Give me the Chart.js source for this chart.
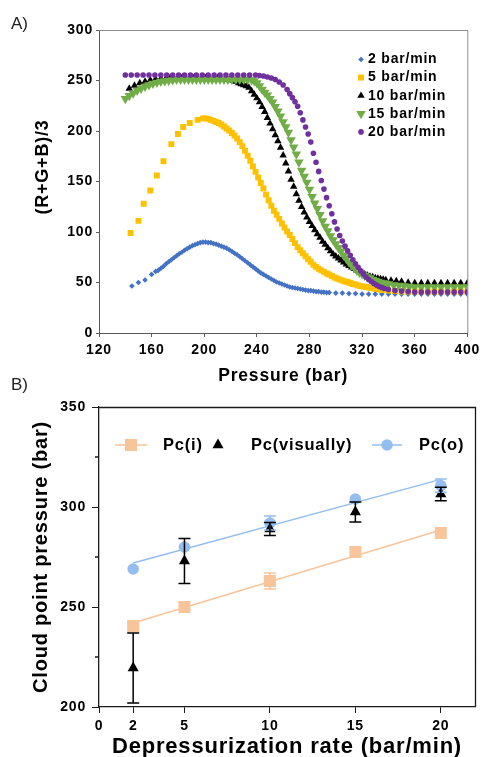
<!DOCTYPE html>
<html><head><meta charset="utf-8">
<script src="https://cdn.jsdelivr.net/npm/chart.js@4.4.1/dist/chart.umd.min.js"></script>
<style>
html,body{margin:0;padding:0;background:#fff;width:484px;height:757px;overflow:hidden;}
.box{position:absolute;left:0;width:484px;}
#boxA{top:0;height:390px;}
#boxB{top:376px;height:381px;}
</style></head><body>
<div class="box" id="boxA"><canvas id="chartA"></canvas></div>
<div class="box" id="boxB"><canvas id="chartB"></canvas></div>
<script>
// ---------- Panel A data: [pressure (bar), (R+G+B)/3] ----------
const seriesLabelsA = ['2 bar/min','5 bar/min','10 bar/min','15 bar/min','20 bar/min'];
const rate2 = [[145,46.5],[150,50],[155,52.5],[160,58],[163,61],[165,62],[167,64],[169,66],[171,68.5],[173,70.5],
 [175,72.5],[177,74.5],[179,76.5],[181,78.5],[183,80],[185,82],[187,83.5],[189,85],[191,86.5],[193,87.5],
 [195,88.5],[197,89.5],[199,90],[201,90],[203,89.5],[205,89.5],[207,88.5],[209,88],[211,87],[213,86],
 [215,85],[217,84],[219,82.5],[221,81],[223,79],[225,77.5],[227,75.5],[229,73.5],[231,71.5],[233,69.5],
 [235,67.5],[237,65.5],[239,63.5],[241,61.5],[243,59.5],[245,58],[247,56.5],[249,55],[251,53.5],[253,52],
 [255,50.5],[257,49.5],[259,48.5],[261,47.5],[263,46.5],[265,45.5],[267,45],[269,44.5],[271,44],[273,43.5],
 [275,43],[277,42.5],[279,42],[281,42],[283,41.5],[285,41],[287,41],[289,40.5],[291,40.5],[293,40],
 [295,40],[300,39.5],[305,39.5],[310,39],[315,39],[320,38.5],[325,38.5],[330,38.5],[335,38.5],[340,38.5],
 [345,38.5],[350,38.5],[355,38.5],[360,38.5],[365,38.5],[370,38.5],[375,38.5],[380,38.5],[385,38.5],[390,38.5],
 [395,38.5],[400,38.5]];
const rate5 = [[144,99],[150,111],[154,128],[159,141],[164,156],[169,170],[175,187],[180,197],[184,204],[189,208],
 [195,211],[199,212.5],[201,212.5],[203,212],[205,211],[207,210],[209,209],[211,208],[213,206.5],[215,204.5],
 [217,202.5],[219,200.5],[221,198],[223,195.5],[225,192.5],[227,189],[229,185],[231,180.5],[233,175.5],[235,170.5],
 [237,165],[239,159.5],[241,154],[243,148.5],[245,143],[247,137],[249,131.5],[251,126],[253,121],[255,117],
 [257,113],[259,108.5],[261,104.5],[263,100.5],[265,97],[267,93],[269,89],[271,85],[273,82],[275,79],
 [277,76],[279,73],[281,70.5],[283,67.5],[285,65.5],[287,63.5],[289,62],[291,60.5],[293,59],[295,58],
 [297,56.5],[299,55],[301,54],[303,53],[305,52],[307,51],[309,50.5],[311,49.5],[313,48.5],[315,48],
 [317,47],[319,46.5],[321,46],[323,45.5],[325,45],[327,44.5],[329,44],[331,43.5],[333,43],[335,42.5],
 [340,42],[345,41.5],[350,41],[355,41],[360,41],[365,41],[370,41],[375,41],[380,41],[385,41],
 [390,41],[395,41],[400,41]];
const rate10 = [[143,242],[147,245],[151,247.5],[155,249],[159,250.5],[163,251.5],[167,252],[171,252.5],[174,252.5],[177,252.5],
 [180,252.5],[183,252.5],[186,252.5],[189,252.5],[192,252.5],[195,252.5],[198,252.5],[201,252.5],[204,252.5],[207,252.5],
 [210,252.5],[213,252],[216,251.5],[219,251],[222,250],[224,249],[226,247.5],[228,246.5],[230,245.5],[232,244.5],
 [234,243],[236,239.5],[238,236],[240,232.5],[242,228.5],[244,224],[246,219],[248,213],[250,207.5],[252,202],
 [254,196],[256,190],[258,183.5],[260,176],[262,168],[264,160],[266,152],[268,145],[270,137.5],[272,131],
 [274,125],[276,119.5],[278,114.5],[280,110],[282,106],[284,102],[286,98],[288,94.5],[290,90.5],[292,87.5],
 [294,84],[296,81],[298,78],[300,76],[302,74],[304,72],[306,70],[308,68],[310,66.5],[312,65],
 [314,63.5],[316,62],[318,60.5],[320,59],[322,58],[324,57],[326,56],[328,55.5],[330,54.5],[332,54],
 [334,53.5],[336,53],[338,52.5],[342,52],[346,51.5],[350,51],[355,50],[360,49.5],[365,49.5],[370,49.5],
 [375,49.5],[380,49.5],[385,49.5],[390,49.5],[395,49.5],[400,49.5]];
const rate15 = [[140,232],[143,235],[146,237.5],[149,240],[152,242],[155,244],[158,245.5],[161,247],[164,248],[167,249],
 [170,249.5],[173,250],[176,250.5],[179,251],[182,251],[185,251],[188,251],[191,251],[194,251],[197,251],
 [200,251],[203,251],[206,251],[209,251],[212,251],[215,251],[218,251],[221,251],[224,251],[227,251],
 [230,251],[233,251],[236,250.5],[238,249.5],[240,247.5],[242,244.5],[244,241],[246,238],[248,235.5],[250,232],
 [252,228.5],[254,224],[256,219.5],[258,214.5],[260,209],[262,204],[264,198.5],[266,191],[268,184],[270,177],
 [272,169],[274,161],[276,155],[278,149],[280,142],[282,135],[284,128.5],[286,123],[288,117],[290,111],
 [292,105.5],[294,101],[296,96],[298,92],[300,88],[302,84.5],[304,81],[306,77],[308,73.5],[310,70],
 [312,67],[314,64.5],[316,62],[318,60],[320,58.5],[322,57],[324,55.5],[326,54.5],[328,53],[330,52],
 [332,51],[334,50],[336,49.5],[338,49],[340,48.5],[344,47.5],[348,47],[352,46.5],[356,46],[360,45.5],
 [365,45.5],[370,45.5],[375,45.5],[380,45.5],[385,45.5],[390,45.5],[395,45.5],[400,45.5]];
const rate20 = [[140,255.5],[144.5,255.5],[149,255.5],[153.5,255.5],[158,255.5],[162.5,255.5],[167,255.5],[171.5,255.5],[176,255.5],[180.5,255.5],
 [185,255.5],[189.5,255.5],[194,255.5],[198.5,255.5],[203,255.5],[207.5,255.5],[212,255.5],[216.5,255.5],[221,255.5],[225.5,255.5],
 [230,255.5],[234.5,255.5],[239,255.5],[242,255],[245,254.5],[248,253.5],[251,252.5],[254,251],[257,248.5],[260,245.5],
 [263,241],[265,237],[267,233],[269,229],[271,224.5],[273,218],[275,211],[277,204],[279,197],[281,189],
 [283,178],[285,169],[287,160],[289,151],[291,142.5],[293,134],[295,126],[297,118],[299,110],[301,103],
 [303,96.5],[305,91],[307,86],[309,81.5],[311,77],[313,72.5],[315,68.5],[317,65],[319,61.5],[321,58.5],
 [323,55.5],[325,53],[327,51],[329,49],[331,47.5],[333,46],[335,45],[337,44],[340,43],[345,42],
 [350,41.5],[355,41],[360,40.5],[365,40.5],[370,40.5],[375,40.5],[380,40.5],[385,40.5],[390,40.5],[395,40.5],
 [400,40.5]];

// ---------- Panel B data ----------
const ratesB = [2, 5, 10, 15, 20];
const pcI = [240.5, 250, 263, 277.5, 287];
const pcV = [219.5, 273, 289, 297.5, 306.5];
const pcO = [269, 280, 292, 304, 310.7];
const errI = [0, 0, 4, 0, 0];
const errV = [17.5, 11.3, 3.2, 5, 3.4];
const errO = [0, 0, 3.5, 0, 3.3];
const fitRates = [2, 20];
const fitI = [242, 288.5];
const fitO = [272, 313.8];
const xTicksB = [0, 2, 5, 10, 15, 20];
const minorTicksB = [225, 275, 325];
const legendLabelsB = ['Pc(i)', 'Pc(visually)', 'Pc(o)'];

// ---------- helpers ----------
const FONT = "'Liberation Sans', Arial, Helvetica, sans-serif";
Chart.defaults.font.family = FONT;
Chart.defaults.color = '#000';
const xy = pairs => pairs.map(p => ({x: p[0], y: p[1]}));
const zip = (xs, ys) => xs.map((x, i) => ({x: x, y: ys[i]}));
const spacing = {id: 'spacing', beforeDraw(c) { c.ctx.letterSpacing = '0.8px'; }};

// ---------- Chart A ----------
const styleA = [
  {color: '#4472C4', style: 'rectRot', r: 2.8, rot: 0},
  {color: '#FFC000', style: 'rect', r: 4.2, rot: 0},
  {color: '#000000', style: 'triangle', r: 4.3, rot: 0},
  {color: '#70AD47', style: 'triangle', r: 5.5, rot: 180},
  {color: '#7030A0', style: 'circle', r: 2.8, rot: 0}
];
const seriesA = [rate2, rate5, rate10, rate15, rate20];

const decoA = {
  id: 'decoA',
  beforeDatasetsDraw(c) {
    const {ctx, chartArea: a} = c;
    ctx.save();
    ctx.strokeStyle = '#8c8c8c'; ctx.lineWidth = 1;
    ctx.beginPath();
    ctx.moveTo(a.left, a.top + 0.5); ctx.lineTo(a.right + 0.5, a.top + 0.5); ctx.lineTo(a.right + 0.5, a.bottom);
    ctx.stroke();
    ctx.restore();
  },
  afterDraw(c) {
    const {ctx, chartArea: a} = c;
    ctx.save();
    ctx.letterSpacing = '0.8px';
    ctx.font = 'bold 14px ' + FONT;
    ctx.textBaseline = 'middle'; ctx.textAlign = 'left';
    c.data.datasets.forEach((ds, i) => {
      const y = a.top + 29.5 + i * 18.1;
      const mx = a.left + 262;
      ctx.fillStyle = ds.backgroundColor;
      Chart.helpers.drawPoint(ctx, {pointStyle: ds.pointStyle, radius: ds.pointRadius, rotation: ds.pointRotation, borderWidth: 0}, mx, y);
      ctx.fillStyle = '#000';
      ctx.fillText(ds.label, a.left + 269, y);
    });
    ctx.letterSpacing = '0px';
    ctx.font = '17px ' + FONT;
    ctx.fillStyle = '#222';
    ctx.fillText('A)', 11, 24);
    ctx.restore();
  }
};

new Chart(document.getElementById('chartA'), {
  type: 'scatter',
  data: {
    datasets: seriesA.map((d, i) => ({
      label: seriesLabelsA[i], data: xy(d),
      pointStyle: styleA[i].style, pointRadius: styleA[i].r, pointRotation: styleA[i].rot,
      pointHoverRadius: styleA[i].r,
      backgroundColor: styleA[i].color, borderColor: styleA[i].color, pointBorderWidth: 0,
      order: 5 - i
    }))
  },
  options: {
    responsive: true, maintainAspectRatio: false, animation: false, devicePixelRatio: 1, events: [],
    layout: {padding: {top: 30, right: 13, left: 0, bottom: 0}},
    plugins: {legend: {display: false}, tooltip: {enabled: false}},
    scales: {
      x: {
        type: 'linear', min: 120, max: 400,
        ticks: {stepSize: 40, font: {size: 14, weight: 'bold'}, color: '#000', padding: 5, maxRotation: 0},
        grid: {drawOnChartArea: false, drawTicks: true, tickLength: 4, color: '#595959'},
        border: {display: true, color: '#595959', width: 1},
        title: {display: true, text: 'Pressure (bar)', font: {size: 17.5, weight: 'bold'}, color: '#000', padding: {top: 0, bottom: 3}},
        afterFit(s) { s.height = 57; }
      },
      y: {
        min: 0, max: 300,
        ticks: {stepSize: 50, font: {size: 14, weight: 'bold'}, color: '#000', padding: 3},
        grid: {drawOnChartArea: false, drawTicks: true, tickLength: 3, color: '#595959'},
        border: {display: true, color: '#595959', width: 1},
        title: {display: true, text: '     (R+G+B)/3', font: {size: 18, weight: 'bold'}, color: '#000', padding: {top: 32, bottom: 0}},
        afterFit(s) { s.width = 99; }
      }
    }
  },
  plugins: [spacing, decoA]
});

// ---------- Chart B ----------
const colI = '#F8C49A', colO = '#94BEF0', colV = '#000000';

const decoB = {
  id: 'decoB',
  beforeDatasetsDraw(c) {
    const {ctx, chartArea: a, scales} = c;
    ctx.save();
    ctx.strokeStyle = '#1a1a1a'; ctx.lineWidth = 1.3;
    ctx.beginPath();
    ctx.moveTo(a.left, a.top + 0.5); ctx.lineTo(a.right + 0.5, a.top + 0.5); ctx.lineTo(a.right + 0.5, a.bottom);
    minorTicksB.forEach(v => {
      const py = scales.y.getPixelForValue(v);
      ctx.moveTo(a.left - 4, py); ctx.lineTo(a.left, py);
    });
    ctx.stroke();
    ctx.restore();
  },
  afterDatasetsDraw(c) {
    const {ctx, scales} = c;
    c.data.datasets.forEach(ds => {
      if (!ds.errors) return;
      ctx.save();
      ctx.strokeStyle = ds.errorColor; ctx.lineWidth = 1.5;
      ds.data.forEach((pt, i) => {
        const e = ds.errors[i];
        if (!e) return;
        const px = scales.x.getPixelForValue(pt.x);
        const y1 = scales.y.getPixelForValue(pt.y + e), y2 = scales.y.getPixelForValue(pt.y - e);
        ctx.beginPath();
        ctx.moveTo(px, y1); ctx.lineTo(px, y2);
        ctx.moveTo(px - 6, y1); ctx.lineTo(px + 6, y1);
        ctx.moveTo(px - 6, y2); ctx.lineTo(px + 6, y2);
        ctx.stroke();
      });
      ctx.restore();
    });
  },
  afterDraw(c) {
    const {ctx, chartArea: a} = c;
    const y = a.top + 38;
    ctx.save();
    ctx.letterSpacing = '0.8px';
    ctx.font = 'bold 16.5px ' + FONT;
    ctx.textBaseline = 'middle'; ctx.textAlign = 'left';
    // Pc(i)
    ctx.strokeStyle = colI; ctx.lineWidth = 1.5;
    ctx.beginPath(); ctx.moveTo(a.left + 16, y); ctx.lineTo(a.left + 48, y); ctx.stroke();
    ctx.fillStyle = colI;
    Chart.helpers.drawPoint(ctx, {pointStyle: 'rect', radius: 8.5, rotation: 0, borderWidth: 0}, a.left + 32, y);
    ctx.fillStyle = '#000'; ctx.fillText(legendLabelsB[0], a.left + 64, y);
    // Pc(visually)
    ctx.fillStyle = colV;
    Chart.helpers.drawPoint(ctx, {pointStyle: 'triangle', radius: 6.4, rotation: 0, borderWidth: 0}, a.left + 119, y);
    ctx.fillStyle = '#000'; ctx.fillText(legendLabelsB[1], a.left + 152, y);
    // Pc(o)
    ctx.strokeStyle = colO;
    ctx.beginPath(); ctx.moveTo(a.left + 273, y); ctx.lineTo(a.left + 303, y); ctx.stroke();
    ctx.fillStyle = colO;
    Chart.helpers.drawPoint(ctx, {pointStyle: 'circle', radius: 5.8, rotation: 0, borderWidth: 0}, a.left + 288, y);
    ctx.fillStyle = '#000'; ctx.fillText(legendLabelsB[2], a.left + 320, y);
    ctx.letterSpacing = '0px';
    ctx.font = '17px ' + FONT;
    ctx.fillStyle = '#222';
    ctx.fillText('B)', 11, 9);
    ctx.restore();
  }
};

new Chart(document.getElementById('chartB'), {
  type: 'scatter',
  data: {
    datasets: [
      {label: 'fitI', data: zip(fitRates, fitI), showLine: true, borderColor: colI, borderWidth: 1.5, pointRadius: 0, order: 4},
      {label: 'fitO', data: zip(fitRates, fitO), showLine: true, borderColor: colO, borderWidth: 1.5, pointRadius: 0, order: 4},
      {label: legendLabelsB[0], data: zip(ratesB, pcI), pointStyle: 'rect', pointRadius: 8.5, pointHoverRadius: 8.5,
       backgroundColor: colI, borderColor: colI, pointBorderWidth: 0, errors: errI, errorColor: colI, order: 3},
      {label: legendLabelsB[2], data: zip(ratesB, pcO), pointStyle: 'circle', pointRadius: 5.8, pointHoverRadius: 5.8,
       backgroundColor: colO, borderColor: colO, pointBorderWidth: 0, errors: errO, errorColor: colO, order: 2},
      {label: legendLabelsB[1], data: zip(ratesB, pcV), pointStyle: 'triangle', pointRadius: 6.4, pointHoverRadius: 6.4,
       backgroundColor: colV, borderColor: colV, pointBorderWidth: 0, errors: errV, errorColor: colV, order: 1}
    ]
  },
  options: {
    responsive: true, maintainAspectRatio: false, animation: false, devicePixelRatio: 1, events: [],
    layout: {padding: {top: 31, right: 9, left: 0, bottom: 0}},
    plugins: {legend: {display: false}, tooltip: {enabled: false}},
    scales: {
      x: {
        type: 'linear', min: 0, max: 22,
        afterBuildTicks(s) { s.ticks = xTicksB.map(v => ({value: v})); },
        ticks: {font: {size: 14, weight: 'bold'}, color: '#000', padding: 5, maxRotation: 0, autoSkip: false},
        grid: {drawOnChartArea: false, drawTicks: true, tickLength: 6, color: '#1a1a1a'},
        border: {display: true, color: '#1a1a1a', width: 1.3},
        title: {display: true, text: 'Depressurization rate (bar/min)', font: {size: 22, weight: 'bold'}, color: '#000', padding: {top: 0, bottom: -3}},
        afterFit(s) { s.height = 50; }
      },
      y: {
        min: 200, max: 350,
        ticks: {stepSize: 50, font: {size: 14, weight: 'bold'}, color: '#000', padding: 6},
        grid: {drawOnChartArea: false, drawTicks: true, tickLength: 7, color: '#1a1a1a'},
        border: {display: true, color: '#1a1a1a', width: 1.3},
        title: {display: true, text: 'Cloud point pressure (bar)', font: {size: 20, weight: 'bold'}, color: '#000', padding: {top: 29, bottom: 0}},
        afterFit(s) { s.width = 99; }
      }
    }
  },
  plugins: [spacing, decoB]
});
</script>
</body></html>
